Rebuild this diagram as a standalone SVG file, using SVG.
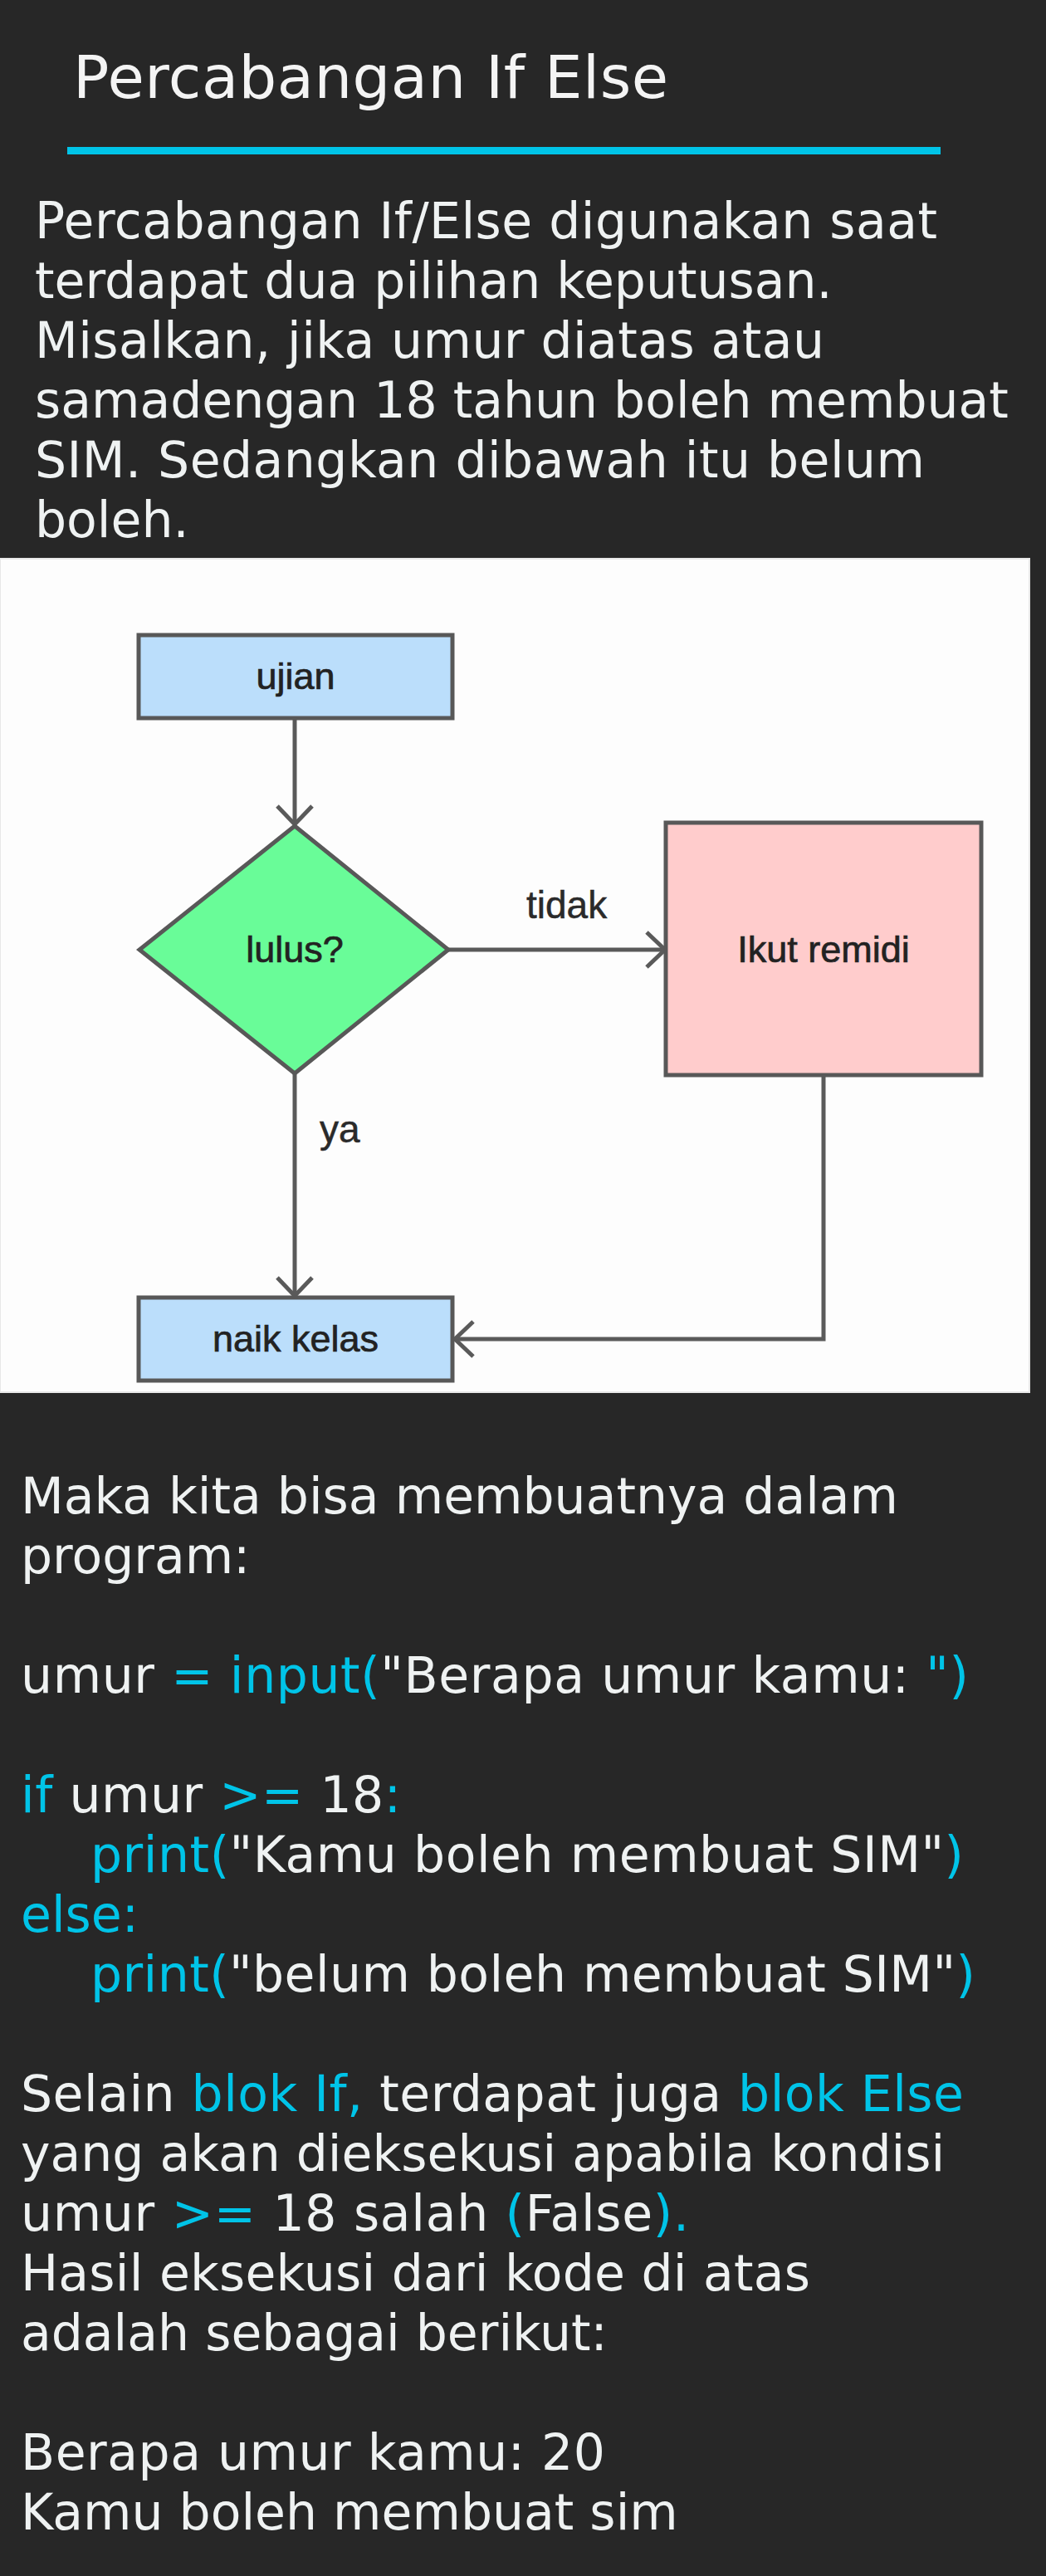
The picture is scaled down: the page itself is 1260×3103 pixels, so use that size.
<svg xmlns="http://www.w3.org/2000/svg" width="1260" height="3103" viewBox="0 0 1260 3103">
<style>
.t{font-family:"DejaVu Sans","Verdana",sans-serif;font-size:60px;fill:#eff2f2}
.title{font-family:"DejaVu Sans","Verdana",sans-serif;font-size:72px;fill:#f4f4f4}
.c{fill:#00c4e8}
.box{stroke:#585858;stroke-width:5}
.lbl{font-family:"Liberation Sans",Arial,sans-serif;font-size:45px;fill:#222222;stroke:#222222;stroke-width:0.7;text-anchor:middle}
.elbl{font-family:"Liberation Sans",Arial,sans-serif;font-size:46px;fill:#2a2a2a;stroke:#2a2a2a;stroke-width:0.5}
.conn{fill:none;stroke:#5a5a5a;stroke-width:5}
</style>
<defs>
<marker id="arr" markerUnits="userSpaceOnUse" markerWidth="60" markerHeight="60" refX="0" refY="0" orient="auto" overflow="visible">
<path d="M-22,-21 L0,0 L-22,21" fill="none" stroke="#5a5a5a" stroke-width="5"/>
</marker>
</defs>
<rect x="0" y="0" width="1260" height="3103" fill="#272727"/>
<g id="header">
<text class="title" x="88" y="118" textLength="717" lengthAdjust="spacing">Percabangan If Else</text>
<rect x="81" y="177" width="1052" height="9" fill="#00c4e8"/>
</g>
<g id="intro">
<text class="t" x="42" y="287" textLength="1087" lengthAdjust="spacing">Percabangan If/Else digunakan saat</text>
<text class="t" x="42" y="359">terdapat dua pilihan keputusan.</text>
<text class="t" x="42" y="431" textLength="951" lengthAdjust="spacing">Misalkan, jika umur diatas atau</text>
<text class="t" x="42" y="503">samadengan 18 tahun boleh membuat</text>
<text class="t" x="42" y="575" textLength="1072" lengthAdjust="spacing">SIM. Sedangkan dibawah itu belum</text>
<text class="t" x="42" y="647">boleh.</text>
</g>
<rect x="0" y="673" width="1240" height="1004" fill="#fdfdfd" stroke="#e8e8e8" stroke-width="2"/>
<g id="connectors">
<path class="conn" d="M355,866 L355,993" marker-end="url(#arr)"/>
<path class="conn" d="M540,1144 L801,1144" marker-end="url(#arr)"/>
<path class="conn" d="M355,1293 L355,1561" marker-end="url(#arr)"/>
<path class="conn" d="M992,1296 L992,1613 L548,1613" marker-end="url(#arr)"/>
<text class="elbl" x="634" y="1106">tidak</text>
<text class="elbl" x="385" y="1376">ya</text>
</g>
<g id="ujian">
<rect class="box" x="167" y="765" width="378" height="100" fill="#bbdefb"/>
<text class="lbl" x="356" y="830">ujian</text>
</g>
<g id="lulus">
<polygon class="box" points="355,995 540,1144 355,1293 168,1144" fill="#69fc98"/>
<text class="lbl" x="355" y="1159">lulus?</text>
</g>
<g id="remidi">
<rect class="box" x="802" y="991" width="380" height="304" fill="#ffcccc"/>
<text class="lbl" x="992" y="1159">Ikut remidi</text>
</g>
<g id="naik">
<rect class="box" x="167" y="1563" width="378" height="100" fill="#bbdefb"/>
<text class="lbl" x="356" y="1628">naik kelas</text>
</g>
<g id="program">
<text class="t" x="25" y="1823">Maka kita bisa membuatnya dalam</text>
<text class="t" x="25" y="1895">program:</text>
<text class="t" x="25" y="2039" xml:space="preserve" textLength="1142" lengthAdjust="spacing"><tspan>umur </tspan><tspan class="c">= input(</tspan><tspan>"Berapa umur kamu: </tspan><tspan class="c">")</tspan></text>
<text class="t" x="25" y="2183" xml:space="preserve" textLength="458" lengthAdjust="spacing"><tspan class="c">if</tspan><tspan> umur </tspan><tspan class="c">&gt;=</tspan><tspan> 18</tspan><tspan class="c">:</tspan></text>
<text class="t" x="109" y="2255" xml:space="preserve" textLength="1052" lengthAdjust="spacing"><tspan class="c">print(</tspan><tspan>"Kamu boleh membuat SIM"</tspan><tspan class="c">)</tspan></text>
<text class="t c" x="25" y="2327">else:</text>
<text class="t" x="109" y="2399" xml:space="preserve" textLength="1066" lengthAdjust="spacing"><tspan class="c">print(</tspan><tspan>"belum boleh membuat SIM"</tspan><tspan class="c">)</tspan></text>
</g>
<g id="explain">
<text class="t" x="25" y="2543" xml:space="preserve" textLength="1136" lengthAdjust="spacing"><tspan>Selain </tspan><tspan class="c">blok If,</tspan><tspan> terdapat juga </tspan><tspan class="c">blok Else</tspan></text>
<text class="t" x="25" y="2615">yang akan dieksekusi apabila kondisi</text>
<text class="t" x="25" y="2687" xml:space="preserve" textLength="805" lengthAdjust="spacing"><tspan>umur </tspan><tspan class="c">&gt;=</tspan><tspan> 18 salah </tspan><tspan class="c">(</tspan><tspan>False</tspan><tspan class="c">).</tspan></text>
<text class="t" x="25" y="2759" textLength="951" lengthAdjust="spacing">Hasil eksekusi dari kode di atas</text>
<text class="t" x="25" y="2831">adalah sebagai berikut:</text>
<text class="t" x="25" y="2975" textLength="704" lengthAdjust="spacing">Berapa umur kamu: 20</text>
<text class="t" x="25" y="3047">Kamu boleh membuat sim</text>
</g>
</svg>
